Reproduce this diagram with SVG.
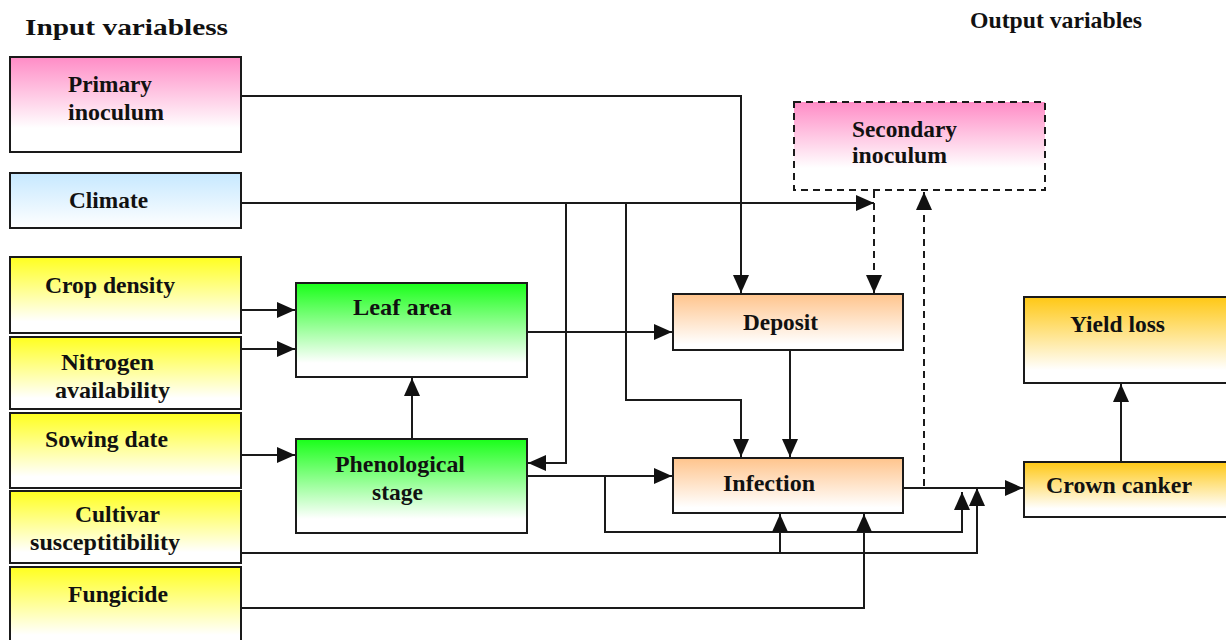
<svg xmlns="http://www.w3.org/2000/svg" width="1226" height="640" viewBox="0 0 1226 640">
<style>
.box{stroke:#1a1a1a;stroke-width:2}
.dash{stroke:#1a1a1a;stroke-width:2;stroke-dasharray:7,5}
.t{font-family:"Liberation Serif","Times New Roman",serif;font-weight:bold;font-size:24px;fill:#111}
.ln{fill:none;stroke:#1a1a1a;stroke-width:2}
.ld{fill:none;stroke:#1a1a1a;stroke-width:2;stroke-dasharray:7,5}
</style>
<defs>
<linearGradient id="gPink" x1="0" y1="0" x2="0" y2="1"><stop offset="0" stop-color="#ff8cc6"/><stop offset="0.75" stop-color="#ffffff"/></linearGradient>
<linearGradient id="gBlue" x1="0" y1="0" x2="0" y2="1"><stop offset="0" stop-color="#c6e8ff"/><stop offset="1" stop-color="#ffffff"/></linearGradient>
<linearGradient id="gYel" x1="0" y1="0" x2="0" y2="1"><stop offset="0" stop-color="#ffff1e"/><stop offset="0.85" stop-color="#ffffff"/></linearGradient>
<linearGradient id="gGreen" x1="0" y1="0" x2="0" y2="1"><stop offset="0" stop-color="#19ff19"/><stop offset="0.85" stop-color="#ffffff"/></linearGradient>
<linearGradient id="gPeach" x1="0" y1="0" x2="0" y2="1"><stop offset="0" stop-color="#ffc48c"/><stop offset="0.9" stop-color="#ffffff"/></linearGradient>
<linearGradient id="gGold" x1="0" y1="0" x2="0" y2="1"><stop offset="0" stop-color="#ffc814"/><stop offset="0.85" stop-color="#ffffff"/></linearGradient>
<marker id="ah" markerUnits="userSpaceOnUse" markerWidth="18" markerHeight="18" viewBox="0 0 18 18" refX="18" refY="9" orient="auto"><path d="M0,1 L18,9 L0,17 Z" fill="#111"/></marker>
</defs>

<text class="t" x="25" y="35" font-size="27" textLength="203" lengthAdjust="spacingAndGlyphs">Input variabless</text>
<text class="t" x="970" y="28" font-size="21" textLength="172" lengthAdjust="spacingAndGlyphs">Output variables</text>

<g id="connectors">
<path class="ln" d="M241,96 H741 V293" marker-end="url(#ah)"/>
<path class="ln" d="M241,203 H874" marker-end="url(#ah)"/>
<path class="ld" d="M874,191 V293" marker-end="url(#ah)"/>
<path class="ln" d="M566,203 V463 H528" marker-end="url(#ah)"/>
<path class="ln" d="M626,203 V400 H741 V457" marker-end="url(#ah)"/>
<path class="ln" d="M527,332 H672" marker-end="url(#ah)"/>
<path class="ln" d="M790,350 V457" marker-end="url(#ah)"/>
<path class="ln" d="M412,439 V378" marker-end="url(#ah)"/>
<path class="ln" d="M241,310 H295" marker-end="url(#ah)"/>
<path class="ln" d="M241,349 H295" marker-end="url(#ah)"/>
<path class="ln" d="M241,455 H295" marker-end="url(#ah)"/>
<path class="ln" d="M527,476 H672" marker-end="url(#ah)"/>
<path class="ln" d="M605,476 V532 H962 V492" marker-end="url(#ah)"/>
<path class="ln" d="M241,553 H977 V488" marker-end="url(#ah)"/>
<path class="ln" d="M780,553 V514" marker-end="url(#ah)"/>
<path class="ln" d="M241,608 H864 V514" marker-end="url(#ah)"/>
<path class="ln" d="M903,488 H1023" marker-end="url(#ah)"/>
<path class="ld" d="M924,486 V192" marker-end="url(#ah)"/>
<path class="ln" d="M1121,462 V384" marker-end="url(#ah)"/>
</g>

<g id="primary"><rect class="box" x="10" y="57" width="231" height="95" fill="url(#gPink)"/><text class="t" x="68" y="92" textLength="84" lengthAdjust="spacingAndGlyphs">Primary</text><text class="t" x="68" y="120" textLength="96" lengthAdjust="spacingAndGlyphs">inoculum</text></g>
<g id="climate"><rect class="box" x="10" y="173" width="231" height="55" fill="url(#gBlue)"/><text class="t" x="69" y="208" textLength="79" lengthAdjust="spacingAndGlyphs">Climate</text></g>
<g id="crop"><rect class="box" x="10" y="257" width="231" height="76" fill="url(#gYel)"/><text class="t" x="45" y="293" textLength="130" lengthAdjust="spacingAndGlyphs">Crop density</text></g>
<g id="nitrogen"><rect class="box" x="10" y="337" width="231" height="72" fill="url(#gYel)"/><text class="t" x="61" y="370" textLength="93" lengthAdjust="spacingAndGlyphs">Nitrogen</text><text class="t" x="55" y="398" textLength="115" lengthAdjust="spacingAndGlyphs">availability</text></g>
<g id="sowing"><rect class="box" x="10" y="413" width="231" height="75" fill="url(#gYel)"/><text class="t" x="45" y="447" textLength="123" lengthAdjust="spacingAndGlyphs">Sowing date</text></g>
<g id="cultivar"><rect class="box" x="10" y="491" width="231" height="72" fill="url(#gYel)"/><text class="t" x="75" y="522" textLength="85" lengthAdjust="spacingAndGlyphs">Cultivar</text><text class="t" x="30" y="550" textLength="150" lengthAdjust="spacingAndGlyphs">susceptitibility</text></g>
<g id="fungicide"><rect class="box" x="10" y="567" width="231" height="80" fill="url(#gYel)"/><text class="t" x="68" y="602" textLength="100" lengthAdjust="spacingAndGlyphs">Fungicide</text></g>
<g id="leaf"><rect class="box" x="296" y="283" width="231" height="94" fill="url(#gGreen)"/><text class="t" x="353" y="315" textLength="99" lengthAdjust="spacingAndGlyphs">Leaf area</text></g>
<g id="phenological"><rect class="box" x="296" y="439" width="231" height="94" fill="url(#gGreen)"/><text class="t" x="335" y="472" textLength="130" lengthAdjust="spacingAndGlyphs">Phenological</text><text class="t" x="372" y="500" textLength="51" lengthAdjust="spacingAndGlyphs">stage</text></g>
<g id="secondary"><rect class="dash" x="794" y="102" width="251" height="88" fill="url(#gPink)"/><text class="t" x="852" y="137" textLength="105" lengthAdjust="spacingAndGlyphs">Secondary</text><text class="t" x="852" y="163" textLength="95" lengthAdjust="spacingAndGlyphs">inoculum</text></g>
<g id="deposit"><rect class="box" x="673" y="294" width="230" height="56" fill="url(#gPeach)"/><text class="t" x="743" y="330" textLength="75" lengthAdjust="spacingAndGlyphs">Deposit</text></g>
<g id="infection"><rect class="box" x="673" y="458" width="230" height="55" fill="url(#gPeach)"/><text class="t" x="723" y="491" textLength="92" lengthAdjust="spacingAndGlyphs">Infection</text></g>
<g id="yield"><rect class="box" x="1024" y="297" width="206" height="86" fill="url(#gGold)"/><text class="t" x="1070" y="332" textLength="95" lengthAdjust="spacingAndGlyphs">Yield loss</text></g>
<g id="crown"><rect class="box" x="1024" y="462" width="206" height="55" fill="url(#gGold)"/><text class="t" x="1046" y="493" textLength="146" lengthAdjust="spacingAndGlyphs">Crown canker</text></g>
</svg>
